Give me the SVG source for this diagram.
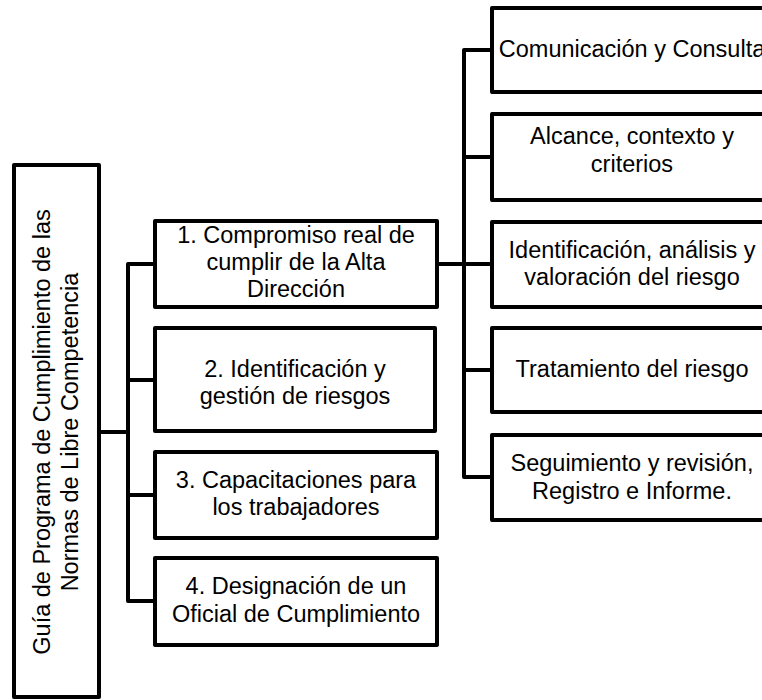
<svg xmlns="http://www.w3.org/2000/svg" width="762" height="700" viewBox="0 0 762 700">
<style>
.box{fill:#fff;stroke:#000;stroke-width:4;stroke-linejoin:round}
.con{fill:none;stroke:#000;stroke-width:4;stroke-linejoin:round}
text{font-family:"Liberation Sans",Arial,sans-serif;font-size:23.5px;fill:#000;text-anchor:middle}
</style>
<rect width="762" height="700" fill="#fff"/>
<g id="connectors">
<path class="con" d="M99,432 H128"/>
<path class="con" d="M155,264 H128 V601 H155"/>
<path class="con" d="M128,380 H155"/>
<path class="con" d="M128,495 H155"/>
<path class="con" d="M437,264 H492"/>
<path class="con" d="M492,50 H464 V477 H492"/>
<path class="con" d="M464,157 H492"/>
<path class="con" d="M464,370 H492"/>
</g>
<g id="root">
<rect class="box" x="14" y="165" width="85" height="532"/>
<text transform="translate(50,432) rotate(-90)"><tspan x="0" y="0">Guía de Programa de Cumplimiento de las</tspan><tspan x="0" y="28">Normas de Libre Competencia</tspan></text>
</g>
<g id="n1">
<rect class="box" x="155" y="221" width="282" height="86"/>
<text><tspan x="296" y="243">1. Compromiso real de</tspan><tspan x="296" y="270">cumplir de la Alta</tspan><tspan x="296" y="297">Dirección</tspan></text>
</g>
<g id="n2">
<rect class="box" x="155" y="328" width="280" height="103"/>
<text><tspan x="295" y="377">2. Identificación y</tspan><tspan x="295" y="404">gestión de riesgos</tspan></text>
</g>
<g id="n3">
<rect class="box" x="155" y="452" width="282" height="86"/>
<text><tspan x="296" y="488">3. Capacitaciones para</tspan><tspan x="296" y="515">los trabajadores</tspan></text>
</g>
<g id="n4">
<rect class="box" x="155" y="558" width="282" height="87"/>
<text><tspan x="296" y="594">4. Designación de un</tspan><tspan x="296" y="622">Oficial de Cumplimiento</tspan></text>
</g>
<g id="r1">
<rect class="box" x="492" y="8" width="290" height="84"/>
<text x="632" y="57">Comunicación y Consulta</text>
</g>
<g id="r2">
<rect class="box" x="492" y="114" width="290" height="86"/>
<text><tspan x="632" y="144">Alcance, contexto y</tspan><tspan x="632" y="172">criterios</tspan></text>
</g>
<g id="r3">
<rect class="box" x="492" y="222" width="290" height="85"/>
<text><tspan x="632" y="258">Identificación, análisis y</tspan><tspan x="632" y="285">valoración del riesgo</tspan></text>
</g>
<g id="r4">
<rect class="box" x="492" y="328" width="290" height="84"/>
<text x="632" y="377">Tratamiento del riesgo</text>
</g>
<g id="r5">
<rect class="box" x="492" y="435" width="290" height="85"/>
<text><tspan x="632" y="471">Seguimiento y revisión,</tspan><tspan x="632" y="499">Registro e Informe.</tspan></text>
</g>
</svg>
